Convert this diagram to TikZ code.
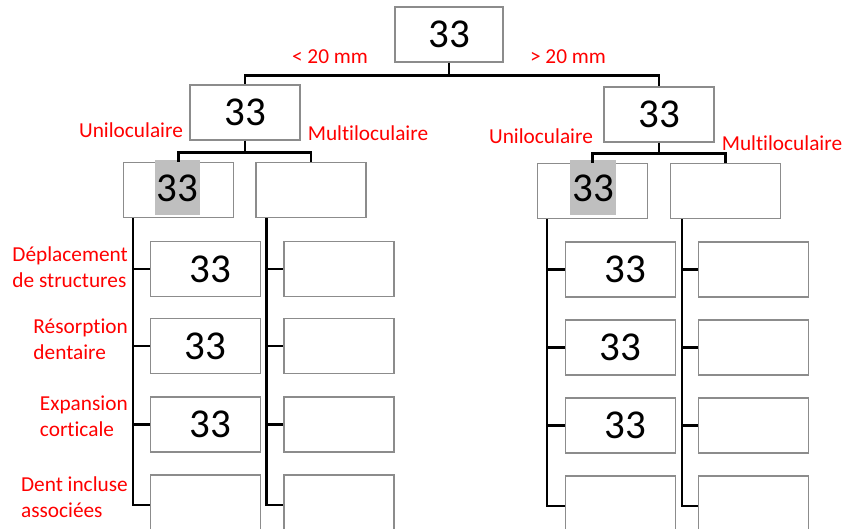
\documentclass[tikz,border=0pt]{standalone}
\usepackage{fontspec}
\setmainfont{Carlito}[Ligatures=NoCommon]
\usetikzlibrary{positioning}
\newcommand{\bignum}{\fontsize{41}{41}\selectfont}
\newcommand{\redlbl}{\fontsize{21.3}{26}\selectfont}
\tikzset{
  box/.style={draw=black!45, line width=1.3pt, fill=white, minimum width=110pt, minimum height=55pt, inner sep=0pt, font=\bignum},
  lastbox/.style={box, minimum height=60pt},
  conn/.style={line width=2.7pt, black},
  lbl/.style={text=red, font=\redlbl, inner sep=0pt},
  hilite/.style={fill=black!25, minimum height=55pt, inner xsep=2pt, inner ysep=0pt, font=\bignum},
}
\begin{document}
\begin{tikzpicture}[x=1pt, y=-1pt]
            % page
            \useasboundingbox(0,0)rectangle(846,529);
            \fill[white](0,0)rectangle(846,529);
            % top levels
            \node[box, minimum width=108pt](root)at(449,34.5){33};
            \node[box](lt)at(245,112.5){33};
            \node[box](rt)at(659,114.5){33};
            \path[draw, conn](root.south)--++(0,13)-|(lt.north);
            \path[draw, conn](root.south)--++(0,13)-|(rt.north);
            \node[lbl](lsmall)at(330,57){< 20 mm};
            \node[lbl](lbig)at(568,57){> 20 mm};
            % uni / multi
            \node[box](luni)at(178.5,190){};
            \node[box](lmul)at(311,190){};
            \node[box](runi)at(592.5,191){};
            \node[box](rmul)at(725.5,191){};
            \node[hilite](luninum)at(177.5,188){33};
            \node[hilite](runinum)at(593,188){33};
            \path[draw, conn](lt.south)--++(0,12)-|(luni.north);
            \path[draw, conn](lt.south)--++(0,12)-|(lmul.north);
            \path[draw, conn](rt.south)--++(0,11)-|(runi.north);
            \path[draw, conn](rt.south)--++(0,11)-|(rmul.north);
            \node[lbl](luniname)at(131,130){Uniloculaire};
            \node[lbl](lmulname)at(368,133){Multiloculaire};
            \node[lbl](runiname)at(541,136){Uniloculaire};
            \node[lbl](rmulname)at(782,143){Multiloculaire};
            % signs, left
            \foreach \r/\y/\t in {1/269/\hspace*{10pt}33, 2/346/33, 3/424.5/\hspace*{10pt}33}{
              \node[box](lu\r)at(205.5,\y){\t};
              \node[box](lm\r)at(339,\y){};
            }
            \node[lastbox](lu4)at(205.5,505){};
            \node[lastbox](lm4)at(339,505){};
            % signs, right
            \foreach \r/\y/\t in {1/269.5/\hspace*{10pt}33, 2/347.5/33, 3/425.5/\hspace*{10pt}33}{
              \node[box](ru\r)at(620.5,\y){\t};
              \node[box](rm\r)at(753.5,\y){};
            }
            \node[lastbox](ru4)at(620.5,506){};
            \node[lastbox](rm4)at(753.5,506){};
            \foreach \r in {1,...,4}{
              \path[draw, conn]([xshift=10pt]luni.south west)|-(lu\r.west);
              \path[draw, conn]([xshift=11pt]lmul.south west)|-(lm\r.west);
              \path[draw, conn]([xshift=10pt]runi.south west)|-(ru\r.west);
              \path[draw, conn]([xshift=12pt]rmul.south west)|-(rm\r.west);
            }
            % sign names
            \node[lbl, anchor=east, align=left](dep)at(128,267){Déplacement\\de structures};
            \node[lbl, anchor=east, align=left](res)at(128,339){Résorption\\dentaire};
            \node[lbl, anchor=east, align=left](exp)at(128,416.5){Expansion\\corticale};
            \node[lbl, anchor=east, align=left](dent)at(128,497.5){Dent incluse\\associées};
        \end{tikzpicture}
\end{document}
